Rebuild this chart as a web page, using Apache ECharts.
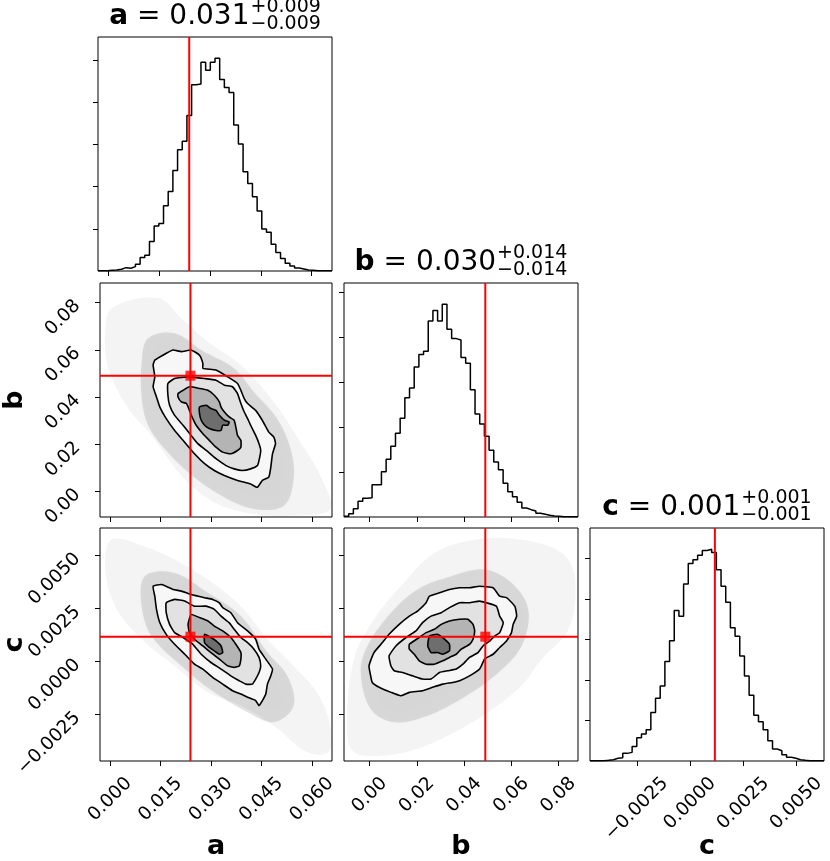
<!DOCTYPE html>
<html>
<head>
<meta charset="utf-8">
<script src="https://cdn.jsdelivr.net/npm/echarts@6/dist/echarts.min.js"></script>
<style>
html, body { margin: 0; padding: 0; background: #fff; }
#chart { width: 830px; height: 861px; }
</style>
</head>
<body>
<div id="chart"></div>
<script>
// parameters, truth values and the quoted medians
const params = ['a', 'b', 'c'];
const truths = [0.0239, 0.0490, 0.00117];
const medians = ['0.031', '0.030', '0.001'];
const errPlus = ['0.009', '0.014', '0.001'];
const errMinus = ['0.009', '0.014', '0.001'];
const ranges = [[-0.0030, 0.0660], [-0.0109, 0.0883], [-0.0047, 0.0063]];

// tick labels
const ticksA = [0, 0.015, 0.030, 0.045, 0.060];
const ticksB = [0, 0.02, 0.04, 0.06, 0.08];
const ticksC = [-0.0025, 0, 0.0025, 0.0050];

// 1d histograms, 50 bins over each range (relative counts)
const histA = [0.5,1,2,3,5,10,8,13,20,40,47,88,134,142,195,237,300,362,387,464,556,558,623,599,623,635,572,548,533,436,379,296,261,222,179,125,116,80,55,37,23,15,9,6,3,2,1,1,0.5,0.5];
const histB = [2,10,25,47,56,58,97,97,136,173,212,251,296,358,387,450,487,497,588,619,588,638,563,535,531,478,461,382,309,279,242,200,165,142,101,76,61,44,27,22,18,11,8,5,3,2,1,1,0.5,0.5];
const histC = [0.5,0.5,1,2,4,8,10,23,26,44,70,81,94,146,189,226,300,362,453,436,533,595,606,620,634,638,628,576,526,478,401,376,316,256,198,138,118,94,61,36,31,19,11,8,4,2,1,1,0.5,0.5];
const histTick = [126, 135, 122];

// a vs b : point cloud extent and contour levels (0.865, 0.675, 0.393, 0.118)
const abCloud = [[0.0005,0.0776],[0.0143,0.0819],[0.0212,0.0734],[0.0291,0.0634],[0.0389,0.0535],[0.0487,0.0379],[0.0566,0.0209],[0.0625,0.0067],[0.0655,-0.0075],[0.0546,-0.0103],[0.0428,-0.0096],[0.0310,-0.0047],[0.0212,0.0067],[0.0123,0.0237],[0.0054,0.0351],[-0.0005,0.0521],[-0.0015,0.0663]];
const abHalo = [[0.0113,0.0649],[0.0192,0.0670],[0.0271,0.0599],[0.0369,0.0521],[0.0428,0.0421],[0.0497,0.0308],[0.0537,0.0180],[0.0546,0.0053],[0.0517,-0.0061],[0.0428,-0.0075],[0.0330,-0.0018],[0.0232,0.0081],[0.0162,0.0180],[0.0113,0.0280],[0.0094,0.0393],[0.0094,0.0549]];
const abL865 = [[0.0133,0.0556],[0.0167,0.0585],[0.0187,0.0599],[0.0212,0.0592],[0.0241,0.0599],[0.0266,0.0577],[0.0276,0.0542],[0.0276,0.0521],[0.0315,0.0514],[0.0350,0.0485],[0.0379,0.0457],[0.0389,0.0428],[0.0399,0.0393],[0.0409,0.0372],[0.0433,0.0343],[0.0453,0.0300],[0.0472,0.0251],[0.0487,0.0230],[0.0492,0.0202],[0.0483,0.0159],[0.0478,0.0102],[0.0472,0.0060],[0.0453,0.0046],[0.0438,0.0017],[0.0418,0.0031],[0.0379,0.0046],[0.0340,0.0067],[0.0310,0.0088],[0.0281,0.0117],[0.0251,0.0159],[0.0217,0.0216],[0.0192,0.0258],[0.0167,0.0308],[0.0148,0.0357],[0.0138,0.0400],[0.0128,0.0443],[0.0133,0.0485],[0.0128,0.0535]];
const abL675 = [[0.0172,0.0457],[0.0192,0.0478],[0.0232,0.0485],[0.0281,0.0478],[0.0315,0.0471],[0.0340,0.0450],[0.0364,0.0443],[0.0379,0.0414],[0.0389,0.0372],[0.0399,0.0336],[0.0409,0.0308],[0.0418,0.0280],[0.0433,0.0237],[0.0443,0.0202],[0.0448,0.0173],[0.0443,0.0131],[0.0438,0.0109],[0.0418,0.0095],[0.0394,0.0088],[0.0369,0.0095],[0.0345,0.0109],[0.0315,0.0138],[0.0286,0.0173],[0.0261,0.0202],[0.0241,0.0237],[0.0217,0.0280],[0.0192,0.0322],[0.0177,0.0365],[0.0172,0.0407]];
const abL393 = [[0.0202,0.0414],[0.0217,0.0428],[0.0236,0.0443],[0.0266,0.0436],[0.0291,0.0428],[0.0310,0.0407],[0.0325,0.0379],[0.0330,0.0357],[0.0340,0.0336],[0.0354,0.0315],[0.0369,0.0301],[0.0374,0.0272],[0.0379,0.0237],[0.0389,0.0216],[0.0389,0.0187],[0.0379,0.0173],[0.0359,0.0159],[0.0335,0.0166],[0.0315,0.0187],[0.0295,0.0216],[0.0276,0.0244],[0.0256,0.0280],[0.0246,0.0308],[0.0236,0.0343],[0.0227,0.0372],[0.0212,0.0379],[0.0202,0.0400]];
const abL118 = [[0.0266,0.0357],[0.0286,0.0365],[0.0300,0.0351],[0.0315,0.0343],[0.0325,0.0322],[0.0340,0.0301],[0.0354,0.0294],[0.0350,0.0280],[0.0335,0.0280],[0.0330,0.0258],[0.0315,0.0258],[0.0295,0.0266],[0.0281,0.0280],[0.0271,0.0301],[0.0266,0.0329]];

// a vs c
const acCloud = [[0.0005,0.00577],[0.0103,0.00543],[0.0192,0.00481],[0.0291,0.00387],[0.0389,0.00261],[0.0468,0.00105],[0.0546,-0.00021],[0.0615,-0.00146],[0.0655,-0.00303],[0.0650,-0.00428],[0.0586,-0.00428],[0.0487,-0.00303],[0.0389,-0.00209],[0.0291,-0.00146],[0.0192,-0.00021],[0.0094,0.00105],[0.0015,0.00261],[-0.0015,0.00449]];
const acHalo = [[0.0103,0.00402],[0.0192,0.00418],[0.0291,0.00324],[0.0389,0.00214],[0.0468,0.00042],[0.0527,-0.00068],[0.0546,-0.00209],[0.0487,-0.00287],[0.0409,-0.00240],[0.0310,-0.00146],[0.0212,-0.00021],[0.0123,0.00120],[0.0094,0.00261]];
const acL865 = [[0.0128,0.00355],[0.0153,0.00363],[0.0187,0.00340],[0.0212,0.00332],[0.0241,0.00316],[0.0281,0.00301],[0.0305,0.00293],[0.0325,0.00277],[0.0335,0.00254],[0.0359,0.00230],[0.0379,0.00183],[0.0409,0.00144],[0.0433,0.00105],[0.0443,0.00058],[0.0463,0.00011],[0.0483,-0.00036],[0.0478,-0.00068],[0.0468,-0.00107],[0.0463,-0.00154],[0.0453,-0.00185],[0.0443,-0.00209],[0.0433,-0.00185],[0.0409,-0.00169],[0.0389,-0.00154],[0.0364,-0.00138],[0.0335,-0.00107],[0.0305,-0.00075],[0.0276,-0.00036],[0.0251,-0.00013],[0.0222,0.00034],[0.0192,0.00081],[0.0167,0.00128],[0.0148,0.00183],[0.0138,0.00246],[0.0133,0.00308]];
const acL675 = [[0.0167,0.00277],[0.0192,0.00293],[0.0222,0.00285],[0.0251,0.00261],[0.0286,0.00261],[0.0310,0.00246],[0.0330,0.00214],[0.0354,0.00183],[0.0369,0.00152],[0.0389,0.00113],[0.0409,0.00089],[0.0428,0.00058],[0.0443,0.00019],[0.0448,-0.00021],[0.0443,-0.00052],[0.0433,-0.00083],[0.0423,-0.00107],[0.0404,-0.00107],[0.0384,-0.00091],[0.0359,-0.00068],[0.0330,-0.00036],[0.0300,-0.00005],[0.0271,0.00034],[0.0246,0.00081],[0.0217,0.00113],[0.0192,0.00136],[0.0177,0.00175],[0.0167,0.00230]];
const acL393 = [[0.0241,0.00222],[0.0266,0.00207],[0.0291,0.00191],[0.0310,0.00167],[0.0335,0.00144],[0.0359,0.00113],[0.0374,0.00081],[0.0389,0.00042],[0.0389,0.00011],[0.0384,-0.00021],[0.0369,-0.00028],[0.0350,-0.00021],[0.0325,0.00011],[0.0300,0.00042],[0.0276,0.00073],[0.0251,0.00105],[0.0236,0.00136],[0.0232,0.00175]];
const acL118 = [[0.0281,0.00128],[0.0300,0.00113],[0.0315,0.00097],[0.0330,0.00073],[0.0335,0.00042],[0.0325,0.00034],[0.0310,0.00050],[0.0295,0.00066],[0.0281,0.00089]];

// b vs c
const bcCloud = [[-0.0096,-0.00303],[-0.0067,0.00011],[0.0018,0.00199],[0.0132,0.00355],[0.0274,0.00512],[0.0445,0.00575],[0.0644,0.00575],[0.0815,0.00512],[0.0871,0.00387],[0.0843,0.00152],[0.0729,0.00011],[0.0644,-0.00115],[0.0502,-0.00240],[0.0360,-0.00334],[0.0203,-0.00412],[0.0061,-0.00444],[-0.0067,-0.00428]];
const bcHalo = [[-0.0038,-0.00052],[-0.0010,0.00073],[0.0090,0.00230],[0.0203,0.00340],[0.0345,0.00402],[0.0487,0.00434],[0.0601,0.00371],[0.0672,0.00246],[0.0644,0.00073],[0.0530,-0.00068],[0.0388,-0.00177],[0.0246,-0.00256],[0.0104,-0.00287],[0.0004,-0.00224]];
const bcL865 = [[0.0004,-0.00068],[-0.0003,-0.00021],[0.0018,0.00042],[0.0054,0.00089],[0.0082,0.00128],[0.0125,0.00175],[0.0168,0.00214],[0.0203,0.00238],[0.0239,0.00277],[0.0253,0.00308],[0.0296,0.00324],[0.0338,0.00340],[0.0381,0.00348],[0.0423,0.00348],[0.0466,0.00355],[0.0523,0.00348],[0.0551,0.00308],[0.0580,0.00301],[0.0615,0.00261],[0.0623,0.00214],[0.0608,0.00175],[0.0601,0.00136],[0.0580,0.00097],[0.0551,0.00066],[0.0523,0.00034],[0.0487,0.00011],[0.0466,-0.00036],[0.0423,-0.00068],[0.0381,-0.00091],[0.0352,-0.00099],[0.0310,-0.00107],[0.0267,-0.00122],[0.0224,-0.00138],[0.0168,-0.00146],[0.0132,-0.00162],[0.0090,-0.00146],[0.0040,-0.00122],[0.0011,-0.00099]];
const bcL675 = [[0.0090,-0.00021],[0.0082,0.00026],[0.0111,0.00073],[0.0154,0.00113],[0.0196,0.00144],[0.0224,0.00183],[0.0260,0.00214],[0.0303,0.00230],[0.0338,0.00254],[0.0381,0.00277],[0.0423,0.00277],[0.0466,0.00285],[0.0495,0.00277],[0.0537,0.00261],[0.0551,0.00214],[0.0566,0.00183],[0.0551,0.00136],[0.0530,0.00120],[0.0509,0.00097],[0.0480,0.00073],[0.0459,0.00042],[0.0423,0.00019],[0.0395,-0.00013],[0.0367,-0.00036],[0.0331,-0.00044],[0.0296,-0.00052],[0.0260,-0.00083],[0.0224,-0.00083],[0.0182,-0.00068],[0.0139,-0.00052],[0.0104,-0.00044]];
const bcL393 = [[0.0168,0.00081],[0.0210,0.00113],[0.0239,0.00136],[0.0274,0.00152],[0.0303,0.00175],[0.0338,0.00191],[0.0381,0.00199],[0.0416,0.00199],[0.0438,0.00175],[0.0445,0.00144],[0.0438,0.00105],[0.0423,0.00081],[0.0388,0.00058],[0.0367,0.00034],[0.0338,0.00019],[0.0310,0.00003],[0.0274,-0.00013],[0.0239,-0.00013],[0.0210,0.00003],[0.0189,0.00034],[0.0168,0.00058]];
const bcL118 = [[0.0253,0.00120],[0.0288,0.00128],[0.0317,0.00105],[0.0338,0.00081],[0.0338,0.00050],[0.0310,0.00034],[0.0288,0.00042],[0.0260,0.00042],[0.0246,0.00073]];

// ---- layout ----
const gridLeft = [98, 344, 590];
const gridTop = [37, 283, 528];
const cell = 234;
const font = 'DejaVu Sans';
const labelSize = 18.5;
const ticks = [ticksA, ticksB, ticksC];
const decimals = [3, 2, 4];
const hists = [histA, histB, histC];

const panels = [
    { row: 0, col: 0 }, { row: 1, col: 0 }, { row: 1, col: 1 },
    { row: 2, col: 0 }, { row: 2, col: 1 }, { row: 2, col: 2 }
];
const pairs = {
    '01': [abCloud, abHalo, abL865, abL675, abL393, abL118],
    '02': [acCloud, acHalo, acL865, acL675, acL393, acL118],
    '12': [bcCloud, bcHalo, bcL865, bcL675, bcL393, bcL118]
};
const layerStyle = [
    { fill: 'rgba(0,0,0,0.045)', stroke: null, blur: 14 },
    { fill: 'rgba(0,0,0,0.11)', stroke: null, blur: 10 },
    { fill: '#f7f7f7', stroke: '#000', blur: 0 },
    { fill: '#e2e2e2', stroke: '#000', blur: 0 },
    { fill: '#b4b4b4', stroke: '#000', blur: 0 },
    { fill: '#6e6e6e', stroke: '#000', blur: 0 }
];

function fmt(v, d) {
    return (v < -1e-12 ? '\u2212' : '') + Math.abs(v).toFixed(d);
}

function polygonSeries(k, pts, st) {
    return {
        type: 'custom', xAxisIndex: k, yAxisIndex: k, data: pts, silent: true, clip: true,
        renderItem: (p, api) => {
            if (p.dataIndex !== 0) return null;
            return {
                type: 'polygon',
                shape: { points: pts.map(q => api.coord(q)), smooth: st.stroke ? 0.15 : 0.35 },
                style: {
                    fill: st.fill, stroke: st.stroke || null, lineWidth: st.stroke ? 1.6 : 0,
                    shadowBlur: st.blur, shadowColor: st.blur ? st.fill : null
                }
            };
        }
    };
}

function redLine(k, pts) {
    return {
        type: 'line', xAxisIndex: k, yAxisIndex: k, data: pts, symbol: 'none', silent: true,
        lineStyle: { color: '#ff0000', width: 2 }, z: 5
    };
}

const tickStyle = { show: true, length: 5, lineStyle: { color: '#000', width: 1 } };
const nameStyle = { fontSize: 27, fontWeight: 'bold', fontFamily: font, color: '#000' };
const grids = [], xAxes = [], yAxes = [], series = [];

panels.forEach((p, k) => {
    grids.push({
        left: gridLeft[p.col], top: gridTop[p.row], width: cell, height: cell,
        show: true, borderColor: '#000', borderWidth: 1, backgroundColor: 'transparent'
    });
    const bottom = p.row === 2;
    const xr = ranges[p.col];
    xAxes.push({
        type: 'value', gridIndex: k, min: xr[0], max: xr[1], position: 'bottom',
        splitLine: { show: false }, axisLine: { show: false, onZero: false },
        axisTick: Object.assign({ customValues: ticks[p.col] }, tickStyle),
        axisLabel: { show: false },
        name: bottom ? params[p.col] : '', nameLocation: 'middle', nameGap: 72, nameTextStyle: nameStyle
    });

    if (p.row === p.col) {
        const h = hists[p.col];
        const ymax = 1.1 * Math.max(...h);
        yAxes.push({
            type: 'value', gridIndex: k, min: 0, max: ymax, position: 'left',
            splitLine: { show: false }, axisLine: { show: false, onZero: false },
            axisTick: Object.assign({ customValues: [1, 2, 3, 4, 5].map(i => i * histTick[p.col]) }, tickStyle),
            axisLabel: { show: false }
        });
        const edges = h.map((_, i) => xr[0] + (xr[1] - xr[0]) * i / h.length);
        const data = h.map((v, i) => [edges[i], v]);
        data.push([xr[1], h[h.length - 1]]);
        series.push({
            type: 'line', xAxisIndex: k, yAxisIndex: k, data: data, step: 'end',
            symbol: 'none', silent: true, lineStyle: { color: '#000', width: 1.5 }
        });
        series.push(redLine(k, [[truths[p.col], 0], [truths[p.col], ymax]]));
    } else {
        const yr = ranges[p.row];
        const left = p.col === 0;
        yAxes.push({
            type: 'value', gridIndex: k, min: yr[0], max: yr[1], position: 'left',
            splitLine: { show: false }, axisLine: { show: false, onZero: false },
            axisTick: Object.assign({ customValues: ticks[p.row] }, tickStyle),
            axisLabel: { show: false },
            name: left ? params[p.row] : '', nameLocation: 'middle', nameGap: 72, nameTextStyle: nameStyle
        });
        pairs['' + p.col + p.row].forEach((pts, li) => series.push(polygonSeries(k, pts, layerStyle[li])));
        const tx = truths[p.col], ty = truths[p.row];
        series.push(redLine(k, [[tx, yr[0]], [tx, yr[1]]]));
        series.push(redLine(k, [[xr[0], ty], [xr[1], ty]]));
        series.push({
            type: 'scatter', xAxisIndex: k, yAxisIndex: k, data: [[tx, ty]], silent: true,
            symbol: 'rect', symbolSize: 10, itemStyle: { color: '#ff0000' }, z: 6
        });
    }
});

const chart = echarts.init(document.getElementById('chart'));
chart.setOption({
    animation: false,
    backgroundColor: '#fff',
    textStyle: { fontFamily: font },
    grid: grids,
    xAxis: xAxes,
    yAxis: yAxes,
    series: series
});

const measure = document.createElement('canvas').getContext('2d');
function textWidth(str, f) { measure.font = f; return measure.measureText(str).width; }
const graphics = [];

// titles: "a = 0.031" with stacked +err / -err
params.forEach((name, j) => {
    const main = ' = ' + medians[j];
    const mainW = textWidth(name, 'bold 28px "DejaVu Sans"') + textWidth(main, '28px "DejaVu Sans"');
    const supW = Math.max(textWidth('+' + errPlus[j], '19px "DejaVu Sans"'), textWidth('\u2212' + errMinus[j], '19px "DejaVu Sans"'));
    const x0 = gridLeft[j] + cell / 2 - (mainW + 1 + supW) / 2;
    const cy = gridTop[j] - 20;
    graphics.push({
        type: 'text', x: x0, y: cy, silent: true,
        style: {
            text: '{p|' + name + '}{n|' + main + '}', align: 'left', verticalAlign: 'middle',
            rich: {
                p: { fontSize: 28, fontWeight: 'bold', fontFamily: font, fill: '#000' },
                n: { fontSize: 28, fontFamily: font, fill: '#000' }
            }
        }
    });
    graphics.push({
        type: 'text', x: x0 + mainW + 1, y: cy - 1, silent: true,
        style: {
            text: '+' + errPlus[j] + '\n\u2212' + errMinus[j], fontSize: 19, fontFamily: font,
            lineHeight: 17, align: 'left', verticalAlign: 'middle', fill: '#000'
        }
    });
});

// rotated tick labels placed through the axes' own scales
function tickLabel(text, cx, cy) {
    return {
        type: 'text', x: cx, y: cy, rotation: Math.PI / 4, silent: true,
        style: { text: text, fontSize: labelSize, fontFamily: font, fill: '#000', align: 'center', verticalAlign: 'middle' }
    };
}
const labelFont = labelSize + 'px "DejaVu Sans"';
panels.forEach((p, k) => {
    if (p.row === 2) {
        ticks[p.col].forEach(v => {
            const s = fmt(v, decimals[p.col]);
            const half = (textWidth(s, labelFont) + labelSize) * Math.SQRT1_2 / 2;
            const px = chart.convertToPixel({ xAxisIndex: k }, v);
            graphics.push(tickLabel(s, px, gridTop[2] + cell + 12 + half));
        });
    }
    if (p.col === 0 && p.row > 0) {
        ticks[p.row].forEach(v => {
            const s = fmt(v, decimals[p.row]);
            const half = (textWidth(s, labelFont) + labelSize) * Math.SQRT1_2 / 2;
            const py = chart.convertToPixel({ yAxisIndex: k }, v);
            graphics.push(tickLabel(s, gridLeft[0] - 14 - half, py - 6 + half));
        });
    }
});

chart.setOption({ graphic: graphics });
</script>
</body>
</html>
